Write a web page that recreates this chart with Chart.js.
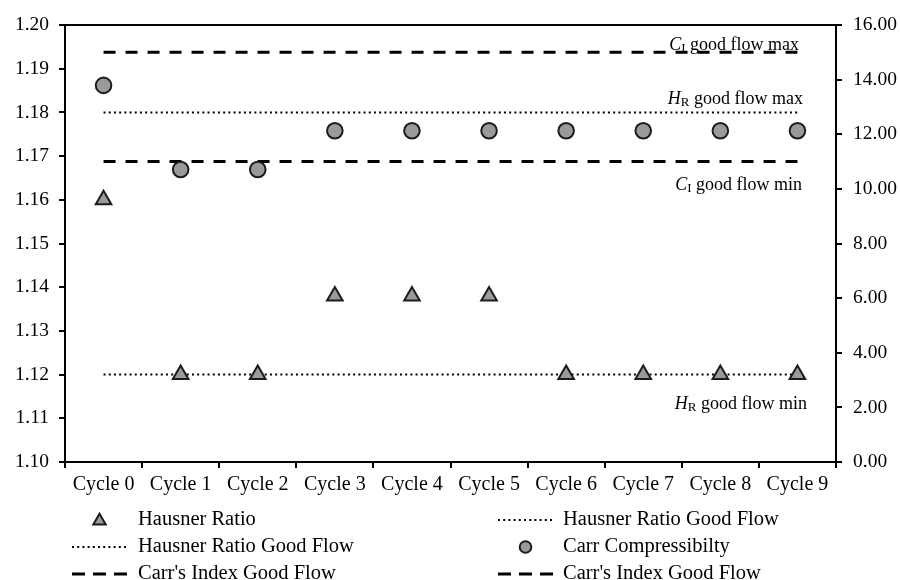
<!DOCTYPE html>
<html lang="en">
<head>
<meta charset="UTF-8" />
<title>Hausner Ratio and Carr Compressibility per Cycle</title>
<script src="https://cdn.jsdelivr.net/npm/chart.js@4.4.1/dist/chart.umd.min.js"></script>
<style>
  body { margin: 0; background: #ffffff; }
  #wrap { width: 900px; height: 580px; }
</style>
</head>
<body>
<div id="wrap"><canvas id="chart" width="900" height="580"></canvas></div>
<script>
  // data
  const cycles = ["Cycle 0", "Cycle 1", "Cycle 2", "Cycle 3", "Cycle 4",
                  "Cycle 5", "Cycle 6", "Cycle 7", "Cycle 8", "Cycle 9"];
  const hausnerRatio = [1.16, 1.12, 1.12, 1.138, 1.138, 1.138, 1.12, 1.12, 1.12, 1.12];
  const carrCompressibility = [13.79, 10.71, 10.71, 12.13, 12.13, 12.13, 12.13, 12.13, 12.13, 12.13];
  const hausnerGoodFlowMax = 1.18;
  const hausnerGoodFlowMin = 1.12;
  const carrGoodFlowMax = 15;
  const carrGoodFlowMin = 11;
  const leftAxis = { min: 1.10, max: 1.20, step: 0.01 };
  const rightAxis = { min: 0, max: 16, step: 2 };

  const FONT = "'Liberation Serif', 'Times New Roman', serif";
  const markerFill = "#9a9a9a";
  const markerEdge = "#1c1c1c";

  function flat(v) {
    return cycles.map(() => v);
  }

  const datasets = [
    {
      label: "Hausner Ratio",
      data: hausnerRatio,
      yAxisID: "y",
      showLine: false,
      pointStyle: "triangle",
      pointRadius: 9,
      backgroundColor: markerFill,
      borderColor: markerEdge,
      pointBorderWidth: 2,
    },
    {
      label: "Carr Compressibilty",
      data: carrCompressibility,
      yAxisID: "y2",
      showLine: false,
      pointStyle: "circle",
      pointRadius: 7.8,
      backgroundColor: markerFill,
      borderColor: markerEdge,
      pointBorderWidth: 2,
    },
    {
      label: "Hausner Ratio Good Flow",
      data: flat(hausnerGoodFlowMax),
      yAxisID: "y",
      borderColor: "#000",
      borderWidth: 2,
      borderDash: [2, 3.2],
      pointRadius: 0,
    },
    {
      label: "Hausner Ratio Good Flow",
      data: flat(hausnerGoodFlowMin),
      yAxisID: "y",
      borderColor: "#000",
      borderWidth: 2,
      borderDash: [2, 3.2],
      pointRadius: 0,
    },
    {
      label: "Carr's Index Good Flow",
      data: flat(carrGoodFlowMax),
      yAxisID: "y2",
      borderColor: "#000",
      borderWidth: 3,
      borderDash: [12, 10],
      pointRadius: 0,
    },
    {
      label: "Carr's Index Good Flow",
      data: flat(carrGoodFlowMin),
      yAxisID: "y2",
      borderColor: "#000",
      borderWidth: 3,
      borderDash: [12, 10],
      pointRadius: 0,
    },
  ];

  // text like "C_I good flow max", with italic letter and small subscript
  function drawLabel(ctx, letter, sub, rest, rightX, midY) {
    ctx.save();
    ctx.fillStyle = "#000";
    ctx.textBaseline = "middle";
    ctx.textAlign = "left";
    const mainFont = "18px " + FONT;
    const italicFont = "italic 18px " + FONT;
    const subFont = "13px " + FONT;
    ctx.font = italicFont;
    const w1 = ctx.measureText(letter).width;
    ctx.font = subFont;
    const w2 = ctx.measureText(sub).width;
    ctx.font = mainFont;
    const w3 = ctx.measureText(rest).width;
    let x = rightX - (w1 + w2 + w3);
    ctx.font = italicFont;
    ctx.fillText(letter, x, midY);
    x += w1;
    ctx.font = subFont;
    ctx.fillText(sub, x, midY + 3);
    x += w2;
    ctx.font = mainFont;
    ctx.fillText(rest, x, midY);
    ctx.restore();
  }

  const extras = {
    id: "extras",
    afterDraw(chart) {
      const ctx = chart.ctx;
      const area = chart.chartArea;
      const y = chart.scales.y;
      const y2 = chart.scales.y2;

      // top frame line
      ctx.save();
      ctx.strokeStyle = "#000";
      ctx.lineWidth = 2;
      ctx.beginPath();
      ctx.moveTo(area.left, area.top);
      ctx.lineTo(area.right, area.top);
      ctx.stroke();
      ctx.restore();

      drawLabel(ctx, "C", "I", " good flow max", 799, y2.getPixelForValue(carrGoodFlowMax) - 7);
      drawLabel(ctx, "H", "R", " good flow max", 803, y.getPixelForValue(hausnerGoodFlowMax) - 13);
      drawLabel(ctx, "C", "I", " good flow min", 802, y2.getPixelForValue(carrGoodFlowMin) + 24);
      drawLabel(ctx, "H", "R", " good flow min", 807, y.getPixelForValue(hausnerGoodFlowMin) + 30);

      // legend in two columns
      const rows = [520, 547, 574];
      const cols = [{ x0: 72, x1: 127, tx: 138 }, { x0: 498, x1: 553, tx: 563 }];
      const order = [0, 2, 3, 1, 4, 5];
      const ds = chart.data.datasets;
      ctx.save();
      ctx.font = "20.5px " + FONT;
      ctx.textBaseline = "middle";
      ctx.fillStyle = "#000";
      order.forEach((di, i) => {
        const col = cols[i % 2];
        const ry = rows[Math.floor(i / 2)];
        const d = ds[di];
        const cx = (col.x0 + col.x1) / 2;
        ctx.save();
        if (d.showLine === false) {
          ctx.fillStyle = markerFill;
          ctx.strokeStyle = markerEdge;
          ctx.lineWidth = 2;
          ctx.beginPath();
          if (d.pointStyle === "triangle") {
            const r = 7.2;
            ctx.moveTo(cx, ry + 1 - r);
            ctx.lineTo(cx + r * 0.866, ry + 1 + r / 2);
            ctx.lineTo(cx - r * 0.866, ry + 1 + r / 2);
            ctx.closePath();
          } else {
            ctx.arc(cx, ry, 5.8, 0, Math.PI * 2);
          }
          ctx.fill();
          ctx.stroke();
        } else {
          ctx.strokeStyle = "#000";
          ctx.lineWidth = d.borderWidth;
          ctx.setLineDash(d.borderDash[0] > 5 ? [13, 8] : d.borderDash);
          ctx.beginPath();
          ctx.moveTo(col.x0, ry);
          ctx.lineTo(col.x1, ry);
          ctx.stroke();
        }
        ctx.restore();
        ctx.fillText(d.label, col.tx, ry);
      });
      ctx.restore();
    },
  };

  new Chart(document.getElementById("chart"), {
    type: "line",
    data: { labels: cycles, datasets: datasets },
    plugins: [extras],
    options: {
      responsive: false,
      animation: false,
      layout: { padding: { top: 25, left: 0, right: 0, bottom: 0 } },
      plugins: { legend: { display: false }, tooltip: { enabled: false } },
      scales: {
        x: {
          type: "category",
          offset: true,
          grid: { offset: true, drawOnChartArea: false, tickLength: 6, color: "#000", lineWidth: 2 },
          border: { color: "#000", width: 2 },
          ticks: { color: "#000", font: { family: FONT, size: 20 }, padding: 5, maxRotation: 0 },
          afterFit: (s) => { s.height = 118; },
        },
        y: {
          position: "left",
          min: leftAxis.min,
          max: leftAxis.max,
          grid: { drawOnChartArea: false, tickLength: 6, color: "#000", lineWidth: 2 },
          border: { color: "#000", width: 2 },
          ticks: {
            stepSize: leftAxis.step,
            color: "#000",
            font: { family: FONT, size: 19.5 },
            padding: 10,
            callback: (v) => Number(v).toFixed(2),
          },
          afterFit: (s) => { s.width = 65; },
        },
        y2: {
          position: "right",
          min: rightAxis.min,
          max: rightAxis.max,
          grid: { drawOnChartArea: false, tickLength: 6, color: "#000", lineWidth: 2 },
          border: { color: "#000", width: 2 },
          ticks: {
            stepSize: rightAxis.step,
            color: "#000",
            font: { family: FONT, size: 19.5 },
            padding: 11,
            callback: (v) => Number(v).toFixed(2),
          },
          afterFit: (s) => { s.width = 64; },
        },
      },
    },
  });
</script>
</body>
</html>
